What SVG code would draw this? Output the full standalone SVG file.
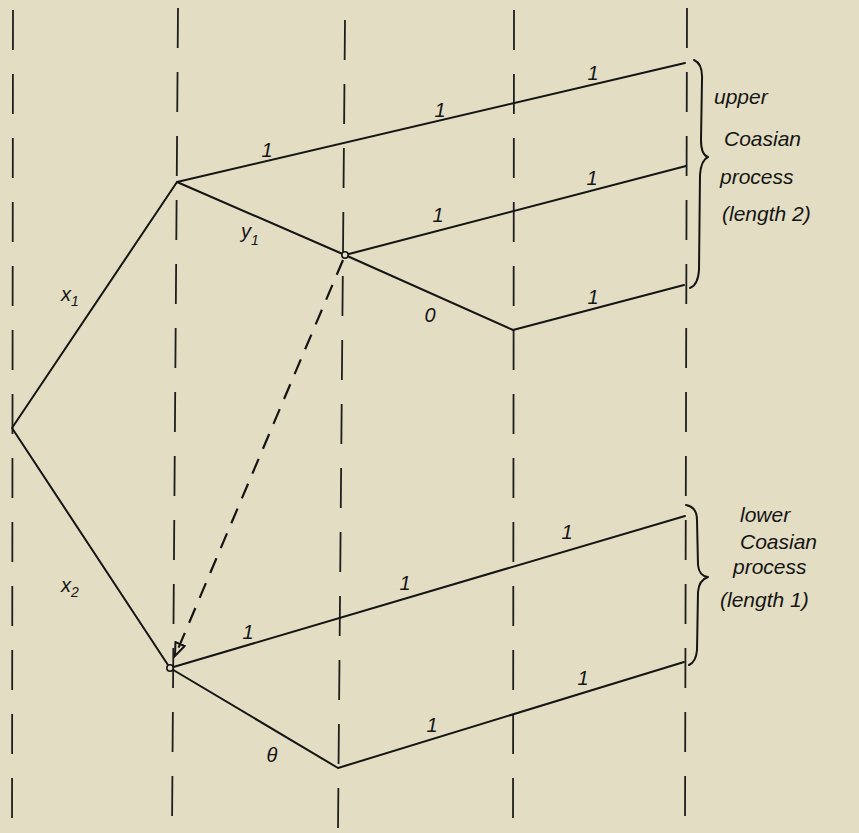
<svg xmlns="http://www.w3.org/2000/svg" width="859" height="833" viewBox="0 0 859 833">
<defs>
<style>
.grid{stroke:#1e1e1e;stroke-width:1.8;stroke-dasharray:40 24;fill:none}
.edge{stroke:#151515;stroke-width:2;fill:none;stroke-linecap:round;stroke-linejoin:round}
.dash{stroke:#151515;stroke-width:2.2;fill:none;stroke-dasharray:16 11}
.lbl{font-family:"Liberation Sans",Arial,sans-serif;font-style:italic;font-size:20px;fill:#151515;text-anchor:middle}
.note{font-family:"Liberation Sans",Arial,sans-serif;font-style:italic;font-size:21px;fill:#151515}
.node{fill:#e3ddc3;stroke:#151515;stroke-width:1.6}
</style>
<marker id="tri" markerUnits="userSpaceOnUse" markerWidth="20" markerHeight="16" refX="14" refY="6" orient="auto">
<path d="M1,1 L14,6 L1,11 z" fill="none" stroke="#151515" stroke-width="2"/>
</marker>
</defs>
<rect width="859" height="833" fill="#e3ddc3"/>
<g id="gridlines">
<line class="grid" x1="13" y1="10" x2="12" y2="830"/>
<line class="grid" x1="178" y1="8" x2="172" y2="830"/>
<line class="grid" x1="345" y1="20" x2="338" y2="830"/>
<line class="grid" x1="514" y1="10" x2="513" y2="830"/>
<line class="grid" x1="687" y1="8" x2="685" y2="830"/>
</g>
<g id="connectors">
<polyline class="edge" points="177,182 12,428 170,668"/>
<line class="edge" x1="177" y1="182" x2="685" y2="63"/>
<polyline class="edge" points="177,182 345,255 513,330 684,285"/>
<line class="edge" x1="345" y1="255" x2="686" y2="166"/>
<line class="edge" x1="170" y1="668" x2="685" y2="516"/>
<polyline class="edge" points="170,668 338,768 684,662"/>
<line class="dash" x1="343" y1="260" x2="175" y2="656" marker-end="url(#tri)"/>
</g>
<g id="node-C"><circle class="node" cx="345" cy="255" r="3.2"/></g>
<g id="node-B"><circle class="node" cx="170" cy="668" r="3.2"/></g>
<g id="labels">
<text class="lbl" x="70" y="301">x<tspan font-size="14" dy="5">1</tspan></text>
<text class="lbl" x="70" y="592">x<tspan font-size="14" dy="5">2</tspan></text>
<text class="lbl" x="250" y="238">y<tspan font-size="14" dy="7">1</tspan></text>
<text class="lbl" x="267" y="157">1</text>
<text class="lbl" x="440" y="117">1</text>
<text class="lbl" x="593" y="80">1</text>
<text class="lbl" x="438" y="222">1</text>
<text class="lbl" x="592" y="185">1</text>
<text class="lbl" x="430" y="322">0</text>
<text class="lbl" x="593" y="304">1</text>
<text class="lbl" x="248" y="639">1</text>
<text class="lbl" x="405" y="590">1</text>
<text class="lbl" x="567" y="539">1</text>
<text class="lbl" x="432" y="732">1</text>
<text class="lbl" x="583" y="685">1</text>
<text class="lbl" x="272" y="762">θ</text>
</g>
<g id="brace-upper">
<path class="edge" d="M694,60 Q703,64 702,80 L701,140 Q701,155 708,157 Q701,160 700,175 L699,270 Q698,285 690,288"/>
<text class="note" x="714" y="104">upper</text>
<text class="note" x="724" y="146">Coasian</text>
<text class="note" x="720" y="184">process</text>
<text class="note" x="722" y="221">(length 2)</text>
</g>
<g id="brace-lower">
<path class="edge" d="M686,505 Q697,507 697,520 L698,565 Q699,576 708,577 Q699,580 698,592 L697,650 Q696,662 689,665"/>
<text class="note" x="740" y="522">lower</text>
<text class="note" x="740" y="549">Coasian</text>
<text class="note" x="733" y="574">process</text>
<text class="note" x="720" y="607">(length 1)</text>
</g>
</svg>
